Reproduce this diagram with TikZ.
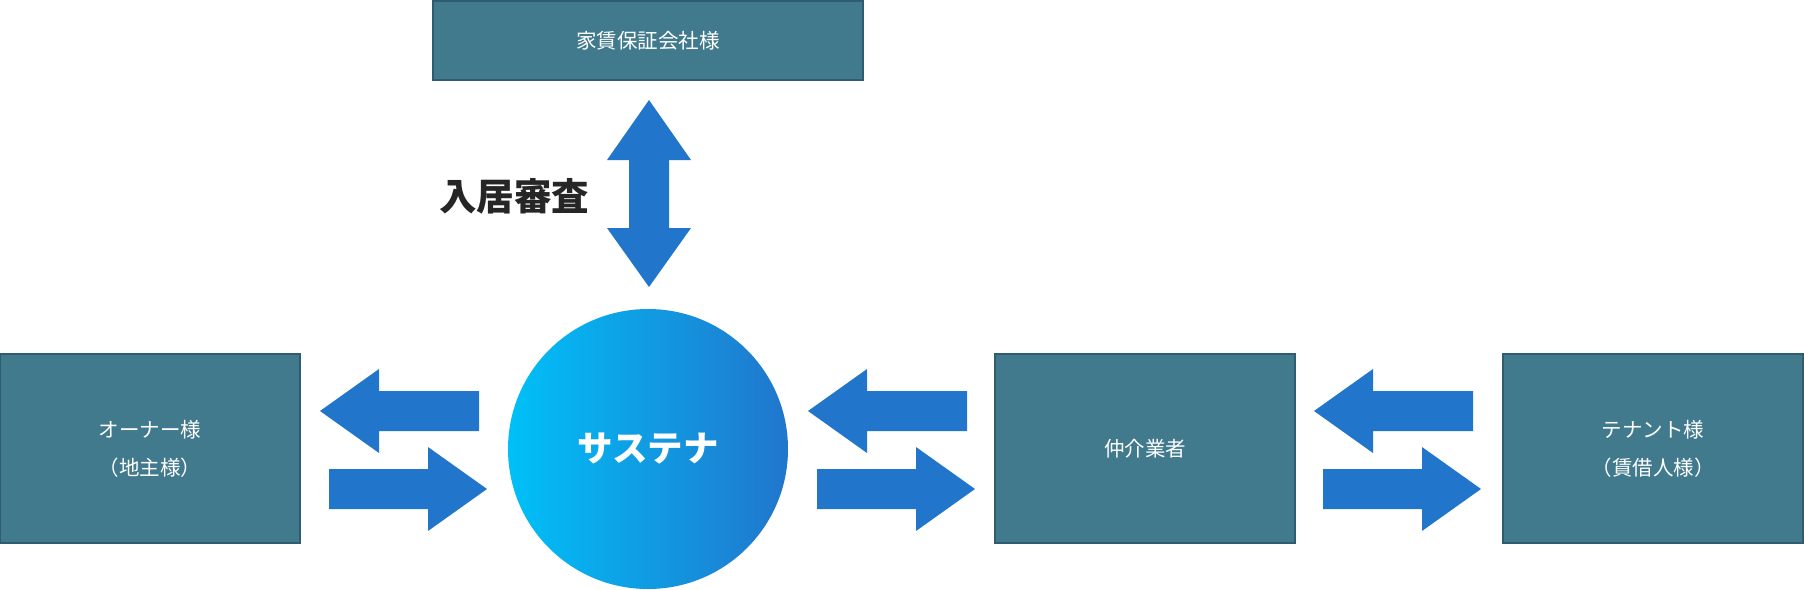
\documentclass[tikz,border=0pt]{standalone}
\usepackage{fontspec}
\setmainfont{Noto Sans CJK JP}
\usetikzlibrary{positioning}
\definecolor{mteal}{RGB}{65,121,141}
\definecolor{mtealdark}{RGB}{47,92,112}
\definecolor{mblue}{RGB}{33,118,204}
\definecolor{mcyan}{RGB}{0,192,248}
\tikzset{party/.style = {draw=mtealdark, fill=mteal, line width=1.5, text=white, align=center, minimum width=300, minimum height=189, inner sep=0, font=\fontsize{20.5}{38}\selectfont}}
\tikzset{blockarrow/.style = {fill=mblue}}

\begin{document}
\begin{tikzpicture}[x=1pt, y=-1pt]
      \useasboundingbox (0,0) rectangle (1804,589);

      \node [party, minimum width=430, minimum height=79] (guarantor) at (648,40.5) {家賃保証会社様};
      \node [party] (owner) at (150,448.5) {オーナー様\\（地主様）};
      \node [party] (agent) at (1145,448.5) {仲介業者};
      \node [party] (tenant) at (1653,448.5) {テナント様\\（賃借人様）};

      \node [circle, minimum size=280, inner sep=0, left color=mcyan, right color=mblue, text=white, font=\fontsize{35.5}{36}\selectfont\bfseries] (sustena) at (648,449) {サステナ};

      \node [text=black!85, font=\fontsize{37.5}{38}\selectfont\bfseries] (screening) at (514,196) {入居審査};

      \fill [blockarrow] (649,100) -- (691,160) -- (669,160) -- (669,228) -- (691,228) -- (649,287) -- (607,228) -- (629,228) -- (629,160) -- (607,160) -- cycle;

      \foreach \x in {320,808,1314} {
        \fill [blockarrow] (\x,411) -- (\x+59,369) -- (\x+59,391) -- (\x+159,391) -- (\x+159,431) -- (\x+59,431) -- (\x+59,453) -- cycle;
        \fill [blockarrow] (\x+9,469) -- (\x+108,469) -- (\x+108,447) -- (\x+167,489) -- (\x+108,531) -- (\x+108,509) -- (\x+9,509) -- cycle;
      }
\end{tikzpicture}
\end{document}
